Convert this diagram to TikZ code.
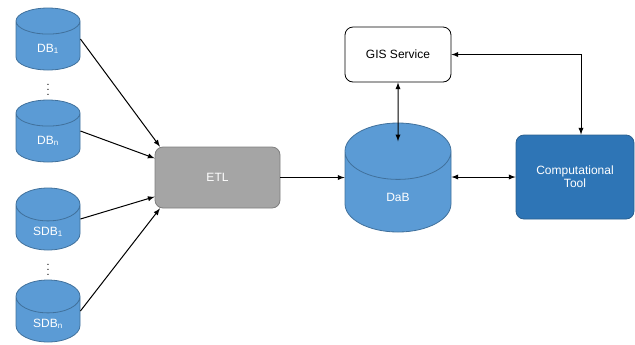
\documentclass[tikz,border=0pt]{standalone}
\usepackage{fontspec}
\setmainfont{Liberation Sans}
\usepackage{xcolor}
\usepackage{tikz}
\usetikzlibrary{shapes.geometric}
\usetikzlibrary{arrows,shapes}

\definecolor{dbblue}{HTML}{5B9BD5}
\definecolor{dbline}{HTML}{41719C}
\definecolor{etlgray}{HTML}{A5A5A5}
\definecolor{etlline}{HTML}{7F7F7F}
\definecolor{toolblue}{HTML}{2E75B6}
\definecolor{toolline}{HTML}{2A5F8F}

\tikzset{
  dbcyl/.style={cylinder, shape border rotate=90, draw=dbline, fill=dbblue,
    anchor=shape center, text=white, font=\fontsize{9}{10}\selectfont,
    aspect=0.85, line width=0.6pt},
  procbox/.style={rectangle, rounded corners=6pt, draw, line width=0.6pt,
    font=\fontsize{9}{10}\selectfont, align=center},
  vdotsnode/.style={inner sep=0pt, font=\footnotesize},
  link/.style={line width=0.75pt, -latex},
  dlink/.style={line width=0.75pt, latex-latex}
}

\begin{document}
\begin{tikzpicture}[x=0.75pt, y=-0.75pt]
\useasboundingbox (0,0) rectangle (635,344);

% sources
\node[dbcyl, minimum width=48pt, minimum height=46.5pt] (db1) at (48,39) {DB\textsubscript{1}};
\node[dbcyl, minimum width=48pt, minimum height=46.5pt] (dbn) at (48,131) {DB\textsubscript{n}};
\node[vdotsnode] (dots1) at (48,86) {$\vdots$};

\node[dbcyl, minimum width=48pt, minimum height=46.5pt] (sdb1) at (48,219) {SDB\textsubscript{1}};
\node[dbcyl, minimum width=48pt, minimum height=46.5pt] (sdbn) at (48,311) {SDB\textsubscript{n}};
\node[vdotsnode] (dots2) at (48,266) {$\vdots$};

% processing
\node[procbox, fill=etlgray, draw=etlline, text=white,
    minimum width=93.75pt, minimum height=45.75pt] (etl) at (217.5,177.5) {ETL};

\node[dbcyl, aspect=1.75, minimum width=79.5pt, minimum height=81.75pt] (dab) at (398,177.5) {DaB};

\node[procbox, fill=white, draw=black,
    minimum width=79.5pt, minimum height=41.25pt] (gis) at (398,54.5) {GIS Service};

\node[procbox, fill=toolblue, draw=toolline, text=white,
    minimum width=88.5pt, minimum height=63pt] (tool) at (575,177) {Computational\\Tool};

\draw [link] (db1.east |- db1.shape center) -- ([xshift=4pt]etl.north west);
\draw [link] (dbn.east |- dbn.shape center) -- (etl.163);
\draw [link] (sdb1.east |- sdb1.shape center) -- (etl.197);
\draw [link] (sdbn.east |- sdbn.shape center) -- ([xshift=4pt]etl.south west);

\draw [link] (etl.east) -- (etl.east -| dab.west);
\draw [dlink] (gis.south) -- ([yshift=-14pt]dab.north);
\draw [dlink] (dab.east |- tool.west) -- (tool.west);
\draw [dlink] (gis.east) -| ([xshift=4.5pt]tool.north);

\end{tikzpicture}
\end{document}
